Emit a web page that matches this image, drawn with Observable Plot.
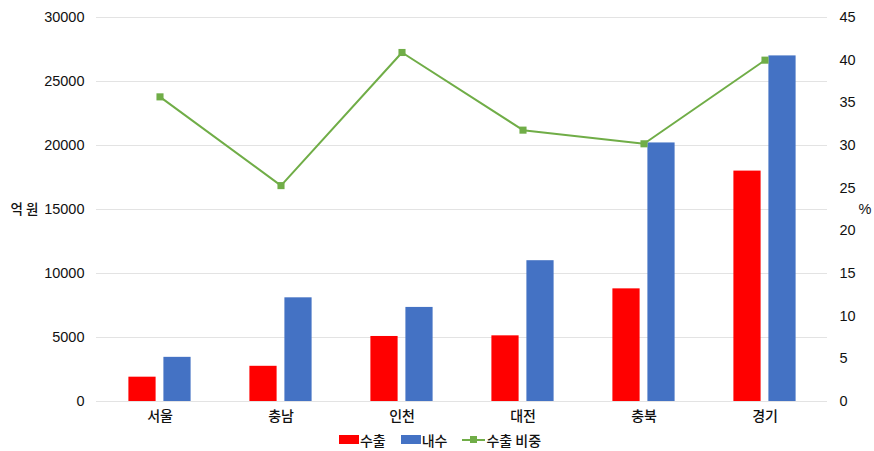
<!DOCTYPE html>
<html>
<head>
<meta charset="utf-8">
<script src="https://cdn.jsdelivr.net/npm/d3@7"></script>
<script src="https://cdn.jsdelivr.net/npm/@observablehq/plot@0.6"></script>
<style>
  html, body { margin: 0; padding: 0; background: #fff; }
  body { width: 874px; height: 451px; overflow: hidden; font-family: "Liberation Sans", "Noto Sans CJK KR", sans-serif; }
  #chart svg { display: block; }
  .legend { height: 23px; display: flex; justify-content: center; align-items: center; gap: 15px;
            font-size: 14px; color: #111; font-family: "Noto Sans CJK KR", sans-serif; font-weight: 500; margin-left: 6px; }
  .legend .item { display: flex; align-items: center; }
  .legend .sw { display: inline-block; width: 20px; height: 9px; margin-right: 1px; }
  .legend .ln { position: relative; display: inline-block; width: 23px; height: 9px; margin-right: 1px; }
  .legend .ln::before { content: ""; position: absolute; left: 0; right: 0; top: 3.5px; height: 2px; background: #70ad47; }
  .legend .ln::after { content: ""; position: absolute; left: 8px; top: 1px; width: 7px; height: 7px; background: #70ad47; }
</style>
</head>
<body>
<div id="chart"></div>
<div class="legend">
  <span class="item"><span class="sw" style="background:#ff0000"></span>수출</span>
  <span class="item"><span class="sw" style="background:#4472c4"></span>내수</span>
  <span class="item"><span class="ln"></span>수출 비중</span>
</div>
<script>
// Regional sales (억 원) split into exports and domestic, plus the export share (%)
const regions = ["서울", "충남", "인천", "대전", "충북", "경기"];
const exportSales = [1900, 2750, 5080, 5130, 8800, 18000];
const domesticSales = [3450, 8100, 7350, 11000, 20200, 27000];
const exportShare = [35.7, 25.3, 40.9, 31.8, 30.2, 40.0];

const leftTicks = [0, 5000, 10000, 15000, 20000, 25000, 30000];
const rightTicks = [0, 5, 10, 15, 20, 25, 30, 35, 40, 45];

const leftMax = 30000;
const rightMax = 45;
// the percentage axis is drawn on the same y scale, rescaled
const k = leftMax / rightMax;

const rows = regions.map((region, i) => ({
  region,
  exports: exportSales[i],
  domestic: domesticSales[i],
  share: exportShare[i]
}));

const numFont = "'Liberation Sans', 'Noto Sans CJK KR', sans-serif";
const krFont = "'Noto Sans CJK KR', sans-serif";

const chart = Plot.plot({
  width: 874,
  height: 428,
  marginLeft: 96,
  marginRight: 47,
  marginTop: 17,
  marginBottom: 27,
  style: { fontSize: "14.5px", fontFamily: numFont, color: "#111", background: "#fff" },
  x: { domain: regions, padding: 0, axis: null },
  y: { domain: [0, leftMax], axis: null },
  marks: [
    Plot.ruleY(leftTicks, { stroke: "#e3e3e3", strokeWidth: 1 }),
    Plot.barY(rows, { x: "region", y: "exports", fill: "#ff0000", insetLeft: 29.4, insetRight: 64.4 }),
    Plot.barY(rows, { x: "region", y: "domestic", fill: "#4472c4", insetLeft: 64.4, insetRight: 29.4 }),
    Plot.line(rows, { x: "region", y: d => d.share * k, stroke: "#70ad47", strokeWidth: 2 }),
    Plot.dot(rows, { x: "region", y: d => d.share * k, symbol: "square", fill: "#70ad47", r: 4 }),
    Plot.axisY(leftTicks, { anchor: "left", tickSize: 0, tickPadding: 12, label: null, tickFormat: d => String(d) }),
    Plot.axisY(rightTicks.map(v => v * k), { anchor: "right", tickSize: 0, tickPadding: 12, label: null, tickFormat: d => String(Math.round(d / k)) }),
    Plot.axisX({ tickSize: 0, tickPadding: 10, label: null, fontSize: 14, fontFamily: krFont, fontWeight: 500 }),
    Plot.text(["억 원"], { text: d => d, frameAnchor: "left", dx: -86, textAnchor: "start", fontSize: 13.5, fontFamily: krFont, fontWeight: 500 }),
    Plot.text(["%"], { text: d => d, frameAnchor: "right", dx: 31, textAnchor: "start" })
  ]
});

document.getElementById("chart").appendChild(chart);
</script>
</body>
</html>
